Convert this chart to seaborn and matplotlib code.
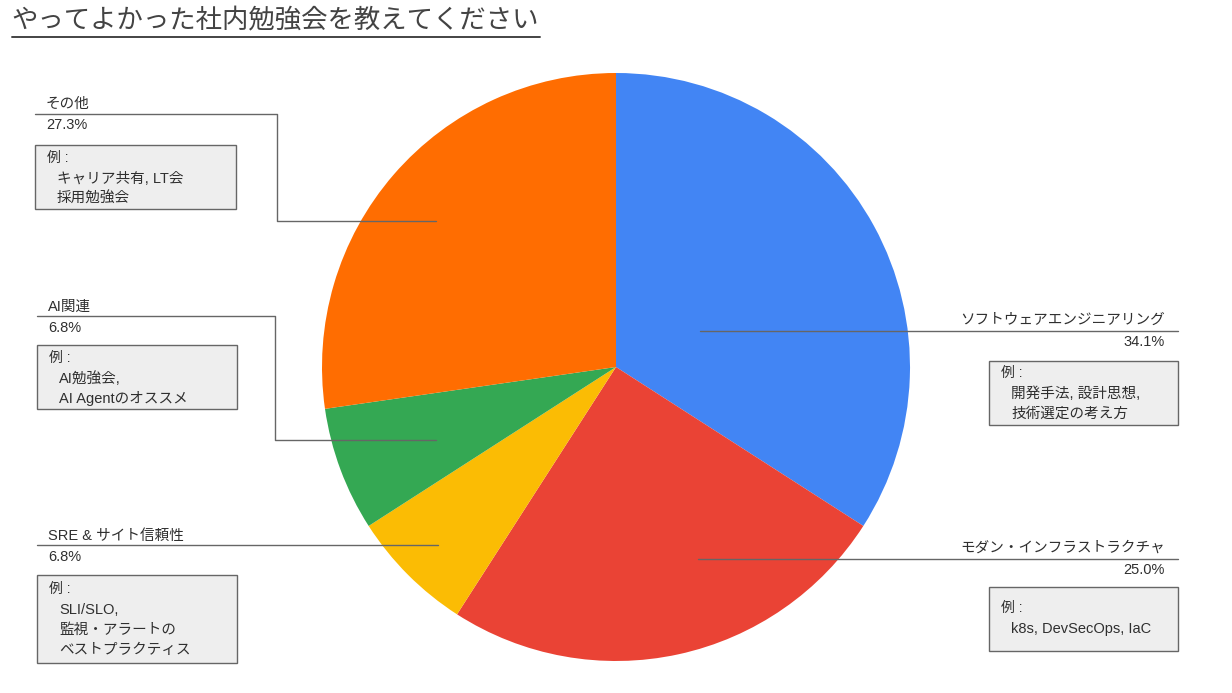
import matplotlib
matplotlib.use('Agg')
import matplotlib.pyplot as plt
from matplotlib.patches import Rectangle
import seaborn as sns

# データ (n=44 回答)
categories = ['ソフトウェアエンジニアリング', 'モダン・インフラストラクチャ',
              'SRE & サイト信頼性', 'AI関連', 'その他']
counts = [15, 11, 3, 3, 12]
examples = [
    ['開発手法, 設計思想,', '技術選定の考え方'],
    ['k8s, DevSecOps, IaC'],
    ['SLI/SLO,', '監視・アラートの', 'ベストプラクティス'],
    ['AI勉強会,', 'AI Agentのオススメ'],
    ['キャリア共有, LT会', '採用勉強会'],
]
colors = ['#4285F4', '#EA4335', '#FBBC04', '#34A853', '#FF6D01']
title = 'やってよかった社内勉強会を教えてください'

sns.set_theme(style='white')
plt.rcParams['font.family'] = ['Liberation Sans', 'Noto Sans CJK JP', 'DejaVu Sans']

W, H = 1232, 693


def Y(y):
    return H - y


fig = plt.figure(figsize=(W / 100, H / 100), dpi=100)
ax = fig.add_axes([0, 0, 1, 1])

ax.pie(counts, colors=colors, startangle=90, counterclock=False,
       center=(616, Y(367)), radius=294, wedgeprops=dict(linewidth=0))
ax.set_xlim(0, W)
ax.set_ylim(0, H)
ax.set_aspect('auto')
ax.axis('off')

# タイトル
ax.text(11, Y(21), title, fontsize=19, color='#434343', ha='left', va='center')
ax.plot([12, 540], [Y(37), Y(37)], color='#434343', lw=1.4)

# ラベル配置 (side, ラベルy, 引き出し線の経路, ボックス, 1行目y)
layout = [
    ('R', 320, [(700, 331), (1178, 331)], (989, 361, 1178, 425), 373),
    ('R', 548, [(698, 559), (1178, 559)], (989, 587, 1178, 651), 608),
    ('L', 536, [(37, 545), (438, 545)], (37, 575, 237, 663), 589),
    ('L', 307, [(37, 316), (275, 316), (275, 440), (436, 440)], (37, 345, 237, 409), 358),
    ('L', 104, [(35, 114), (277, 114), (277, 221), (436, 221)], (35, 145, 236, 209), 158),
]

total = sum(counts)
txt = '#2f2f2f'
fs = 10.5
for cat, cnt, ex, (side, ly, path, box, y0) in zip(categories, counts, examples, layout):
    pct = f'{cnt / total * 100:.1f}%'
    xs = [p[0] for p in path]
    ys = [Y(p[1]) for p in path]
    ax.plot(xs, ys, color='#666666', lw=1.0, zorder=5)
    if side == 'R':
        ax.text(1165, Y(ly), cat, fontsize=fs, color=txt, ha='right', va='center')
        ax.text(1165, Y(ly + 22), pct, fontsize=fs, color=txt, ha='right', va='center')
    else:
        ax.text(box[0] + 11, Y(ly), cat, fontsize=fs, color=txt, ha='left', va='center')
        ax.text(box[0] + 11, Y(ly + 21), pct, fontsize=fs, color=txt, ha='left', va='center')
    x0, t, x1, b = box
    ax.add_patch(Rectangle((x0, Y(b)), x1 - x0, b - t, facecolor='#EEEEEE',
                           edgecolor='#666666', lw=1.0, zorder=4))
    ax.text(x0 + 12, Y(y0), '例 :', fontsize=fs - 0.5, color=txt, ha='left', va='center', zorder=6)
    for i, line in enumerate(ex):
        ax.text(x0 + 22, Y(y0 + 21 + i * 20), line, fontsize=fs, color=txt,
                ha='left', va='center', zorder=6)

fig.savefig('out.png', dpi=100)
